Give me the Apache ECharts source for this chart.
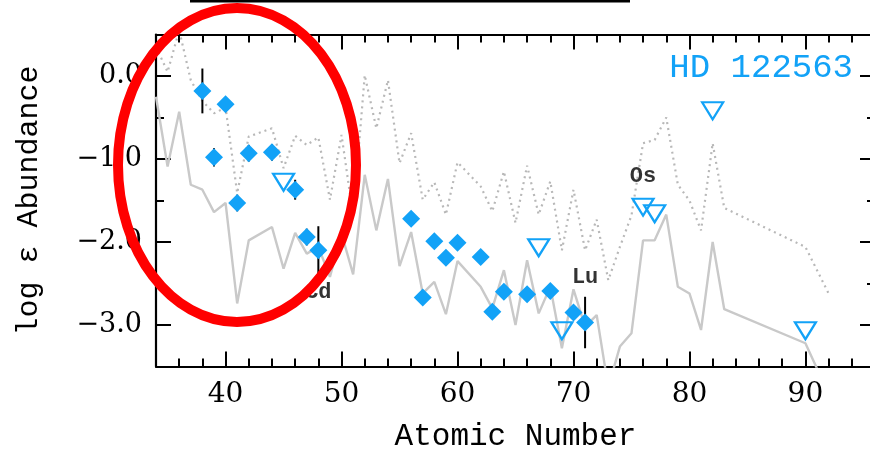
<!DOCTYPE html>
<html>
<head>
<meta charset="utf-8">
<script src="https://cdn.jsdelivr.net/npm/echarts@6/dist/echarts.min.js"></script>
<style>html,body{margin:0;padding:0;background:#fff;}#chart{width:870px;height:449px;}</style>
</head>
<body>
<div id="chart"></div>
<script>
// ---- data ----
const solidZ = [34,35,36,37,38,39,40,41,42,44,45,46,47,48,49,50,51,52,53,54,55,56,57,58,59,60,62,63,64,65,66,67,68,69,70,71,72,73,74,75,76,77,78,79,80,81,82,83,90,92];
const solidV = [-0.25,-1.09,-0.43,-1.31,-1.37,-1.64,-1.53,-2.74,-1.98,-1.82,-2.32,-1.89,-2.14,-2.06,-2.42,-1.90,-2.39,-1.19,-1.86,-1.24,-2.29,-1.88,-2.62,-2.48,-2.87,-2.23,-2.54,-2.80,-2.34,-3.00,-2.22,-2.86,-2.54,-3.28,-2.57,-3.02,-2.88,-3.75,-3.26,-3.10,-1.98,-1.98,-1.67,-2.54,-2.62,-3.06,-2.00,-2.81,-3.22,-3.83];

const dotZ = [34,35,36,37,38,39,40,41,42,44,45,46,47,48,49,50,51,52,53,54,55,56,57,58,59,60,62,63,64,65,66,67,68,69,70,71,72,73,74,75,76,77,78,79,80,81,82,83,90,92];
const dotV = [0.35,0.05,0.55,-0.05,-0.30,-0.45,-0.38,-1.41,-0.73,-0.63,-1.11,-0.72,-0.83,-0.74,-1.49,-0.71,-1.69,0.01,-0.63,-0.05,-1.05,-0.69,-1.49,-1.28,-1.67,-1.04,-1.33,-1.63,-1.15,-1.77,-1.08,-1.67,-1.27,-2.10,-1.37,-2.10,-1.73,-2.46,-2.06,-1.68,-0.81,-0.77,-0.50,-1.31,-1.50,-1.86,-0.81,-1.59,-2.06,-2.62];

const detZ = [38,39,40,41,42,44,46,47,48,56,57,58,59,60,62,63,64,66,68,70,71];
const detV = [-0.18,-0.98,-0.34,-1.53,-0.93,-0.92,-1.37,-1.94,-2.10,-1.72,-2.67,-1.99,-2.19,-2.01,-2.18,-2.84,-2.60,-2.63,-2.59,-2.85,-2.97];

const errZ = [38,39,41,42,44,46,47,48,71];
const errHalf = [0.27,0.11,0.10,0.10,0.10,0.12,0.10,0.29,0.31];

const ulZ = [45,67,69,76,77,82,90];
const ulV = [-1.28,-2.07,-3.07,-1.58,-1.66,-0.42,-3.07];

const noteText = ['Cd','Os','Lu'];
const noteZ = [48,76,71];
const noteV = [-2.61,-1.21,-2.43];

const starName = 'HD 122563';
const xName = 'Atomic Number';
const yName = 'log \u03b5 Abundance';

// ---- chart ----
const BLUE = '#12a2f7';
const monoFont = '"Liberation Mono", monospace';
const serifFont = '"DejaVu Serif", serif';

function zip(a, b) { return a.map((v, i) => [v, b[i]]); }

const errData = errZ.map((z, i) => {
  const c = detV[detZ.indexOf(z)];
  return [z, c - errHalf[i], c + errHalf[i]];
});

const majorTick = { show: true, inside: true, length: 15, lineStyle: { color: '#000', width: 2 } };
const minorTickS = { show: true, inside: true, length: 8, lineStyle: { color: '#000', width: 2 } };
const line = { show: true, onZero: false, lineStyle: { color: '#000', width: 2.2 } };
const noLine = { show: false, onZero: false };
const fmtY = v => (v < 0 ? '\u2212' : '') + Math.abs(v).toFixed(1);

const option = {
  animation: false,
  backgroundColor: '#fff',
  grid: { left: 156, right: -5, top: 34.5, bottom: 82.5, containLabel: false, outerBoundsMode: 'none' },
  xAxis: [
    { type: 'value', min: 34, max: 96, position: 'bottom', axisLine: line, axisTick: majorTick,
      splitLine: { show: false },
      axisLabel: { showMinLabel: false, showMaxLabel: false, color: '#000', fontFamily: serifFont, fontSize: 28, margin: 14 },
      name: xName, nameLocation: 'middle', nameGap: 55,
      nameTextStyle: { color: '#000', fontFamily: monoFont, fontSize: 31 } },
    { type: 'value', min: 34, max: 96, interval: 2, position: 'bottom', axisLine: noLine, axisTick: minorTickS,
      axisLabel: { show: false }, splitLine: { show: false } },
    { type: 'value', min: 34, max: 96, position: 'top', axisLine: line, axisTick: majorTick,
      axisLabel: { show: false }, splitLine: { show: false } },
    { type: 'value', min: 34, max: 96, interval: 2, position: 'top', axisLine: noLine, axisTick: minorTickS,
      axisLabel: { show: false }, splitLine: { show: false } }
  ],
  yAxis: [
    { type: 'value', min: -3.5, max: 0.5, position: 'left', axisLine: line, axisTick: majorTick,
      splitLine: { show: false },
      axisLabel: { showMinLabel: false, showMaxLabel: false, color: '#000', fontFamily: serifFont, fontSize: 27, margin: 14, formatter: fmtY },
      name: yName, nameLocation: 'middle', nameGap: 112,
      nameTextStyle: { color: '#000', fontFamily: monoFont, fontSize: 30 } },
    { type: 'value', min: -3.5, max: 0.5, interval: 0.5, position: 'left', axisLine: noLine, axisTick: minorTickS,
      axisLabel: { show: false }, splitLine: { show: false } },
    { type: 'value', min: -3.5, max: 0.5, position: 'right', axisLine: line, axisTick: majorTick,
      axisLabel: { show: false }, splitLine: { show: false } },
    { type: 'value', min: -3.5, max: 0.5, interval: 0.5, position: 'right', axisLine: noLine, axisTick: minorTickS,
      axisLabel: { show: false }, splitLine: { show: false } }
  ],
  series: [
    { type: 'line', data: zip(dotZ, dotV), symbol: 'none', clip: true, z: 2,
      lineStyle: { color: '#b8b8b8', width: 2.2, type: [2, 4], cap: 'butt' } },
    { type: 'line', data: zip(solidZ, solidV), symbol: 'none', clip: true, z: 2,
      lineStyle: { color: '#c9c9c9', width: 2.4 } },
    { type: 'custom', z: 3, data: errData, encode: { x: 0, y: [1, 2] },
      renderItem: function (params, api) {
        const p1 = api.coord([api.value(0), api.value(1)]);
        const p2 = api.coord([api.value(0), api.value(2)]);
        return { type: 'line', shape: { x1: p1[0], y1: p1[1], x2: p2[0], y2: p2[1] },
                 style: { stroke: '#000', lineWidth: 2 } };
      } },
    { type: 'scatter', data: zip(detZ, detV), symbol: 'diamond', symbolSize: 18, z: 4,
      itemStyle: { color: BLUE, opacity: 1 } },
    { type: 'scatter', data: zip(ulZ, ulV), symbol: 'triangle', symbolRotate: 180, symbolSize: [21, 17], z: 4,
      itemStyle: { color: 'rgba(0,0,0,0)', borderColor: BLUE, borderWidth: 2.2, opacity: 1 } },
    { type: 'scatter', data: noteZ.map((z, i) => ({ value: [z, noteV[i]], name: noteText[i] })), symbolSize: 0, z: 5,
      label: { show: true, position: 'inside', formatter: p => p.name, color: '#000',
               fontFamily: monoFont, fontWeight: 'bold', fontSize: 22 } }
  ],
  graphic: [
    { type: 'rect', shape: { x: 190, y: 0, width: 440, height: 2.5 }, style: { fill: '#000' }, z: 50 },
    { type: 'text', x: 853, y: 68, z: 50,
      style: { text: starName, fill: BLUE, font: '34px "Liberation Mono", monospace', textAlign: 'right', textVerticalAlign: 'middle' } },
    { type: 'ellipse', shape: { cx: 237, cy: 165, rx: 119, ry: 157 }, z: 100,
      style: { fill: 'none', stroke: '#ff0000', lineWidth: 10 } }
  ]
};

const chart = echarts.init(document.getElementById('chart'), null, { renderer: 'canvas' });
chart.setOption(option);
</script>
</body>
</html>
